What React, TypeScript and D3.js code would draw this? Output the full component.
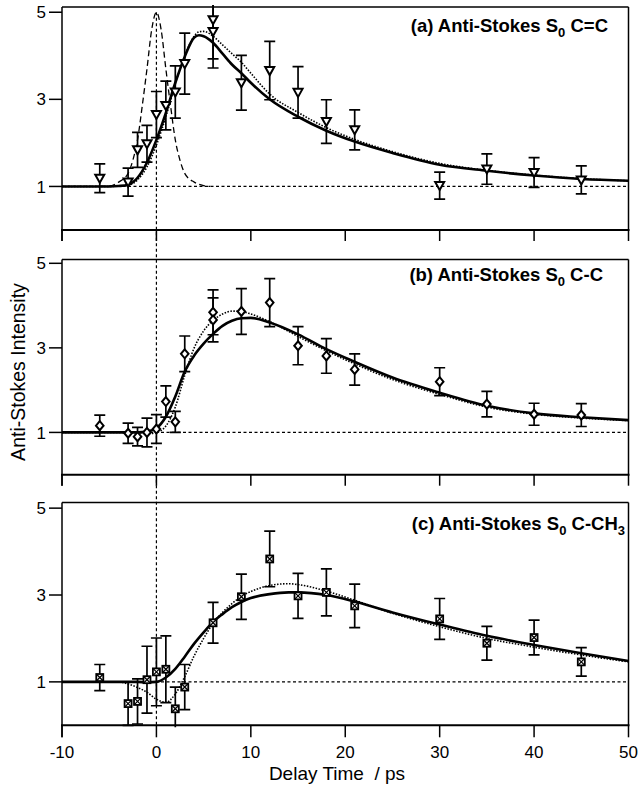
import React from "react";
import * as d3 from "d3";

// ---------- data ----------
const xTicks = [-10, 0, 10, 20, 30, 40, 50];
const yTicks = [1, 3, 5];

// Panel (a) C=C
const timesA = [-6, -3, -2, -1, 0, 1, 2, 3, 6, 6, 9, 12, 15, 18, 21, 30, 35, 40, 45];
const valuesA = [1.19, 1.1, 1.84, 1.98, 2.65, 2.86, 3.17, 3.82, 4.83, 4.56, 3.38, 3.66, 3.16, 2.49, 2.3, 1.02, 1.4, 1.32, 1.15];
const errorsA = [0.33, 0.32, 0.4, 0.42, 0.53, 0.56, 0.6, 0.7, 0.9, 0.84, 0.63, 0.67, 0.59, 0.5, 0.46, 0.31, 0.35, 0.34, 0.32];
const fitTimesA = [-10, -5, -4, -3, -2, -1, 0, 1, 2, 3, 4, 4.5, 5, 6, 7, 8, 9, 10, 12, 15, 18, 21, 25, 30, 35, 40, 45, 50];
const fitSolidA = [1, 1, 1.01, 1.04, 1.2, 1.55, 2.07, 2.69, 3.38, 3.98, 4.42, 4.47, 4.45, 4.3, 4.05, 3.8, 3.6, 3.38, 3.0, 2.6, 2.28, 2.03, 1.77, 1.5, 1.36, 1.25, 1.17, 1.13];
const fitDottedA = [1, 1, 1.01, 1.03, 1.15, 1.45, 1.95, 2.6, 3.35, 4.0, 4.45, 4.55, 4.56, 4.45, 4.25, 4.05, 3.85, 3.6, 3.12, 2.7, 2.35, 2.08, 1.8, 1.53, 1.37, 1.26, 1.18, 1.13];
const pulseTimes = [-6, -5, -4, -3, -2.5, -2, -1.5, -1, -0.5, 0, 0.5, 1, 1.5, 2, 2.5, 3, 4, 5, 5.7];
const pulseValues = [1, 1.01, 1.1, 1.3, 1.6, 2.07, 2.85, 3.7, 4.6, 5, 4.6, 3.7, 2.85, 2.07, 1.6, 1.3, 1.1, 1.02, 1];

// Panel (b) C-C
const timesB = [-6, -3, -2, -1, 0, 1, 2, 3, 6, 6, 9, 12, 15, 18, 21, 30, 35, 40, 45];
const valuesB = [1.16, 0.98, 0.9, 1.0, 1.08, 1.73, 1.25, 2.86, 3.84, 3.66, 3.86, 4.07, 3.05, 2.81, 2.49, 2.2, 1.67, 1.43, 1.41];
const errorsB = [0.25, 0.24, 0.22, 0.34, 0.34, 0.37, 0.25, 0.42, 0.53, 0.52, 0.54, 0.57, 0.45, 0.41, 0.37, 0.33, 0.3, 0.26, 0.27];
const fitTimesB = [-10, -2, -1, 0, 1, 2, 3, 4, 5, 6, 7, 8, 9, 10, 12, 15, 18, 21, 25, 30, 35, 40, 45, 50];
const fitSolidB = [1, 1, 1.02, 1.1, 1.37, 1.85, 2.44, 2.82, 3.1, 3.33, 3.52, 3.64, 3.7, 3.71, 3.6, 3.32, 2.97, 2.67, 2.3, 1.94, 1.63, 1.45, 1.36, 1.29];
const fitDottedB = [1, 1, 0.97, 1.0, 1.15, 1.6, 2.35, 3.0, 3.4, 3.65, 3.8, 3.87, 3.86, 3.8, 3.62, 3.27, 2.93, 2.62, 2.25, 1.9, 1.6, 1.43, 1.34, 1.28];

// Panel (c) C-CH3
const timesC = [-6, -3, -2, -1, 0, 1, 2, 3, 6, 9, 12, 15, 18, 21, 30, 35, 40, 45];
const valuesC = [1.1, 0.5, 0.55, 1.05, 1.23, 1.29, 0.38, 0.88, 2.36, 2.96, 3.83, 2.98, 3.06, 2.75, 2.45, 1.89, 2.02, 1.46];
const errorsC = [0.3, 0.5, 0.52, 0.77, 0.78, 0.77, 0.5, 0.52, 0.47, 0.52, 0.64, 0.52, 0.54, 0.5, 0.47, 0.39, 0.4, 0.33];
const fitTimesC = [-10, -4, -3, -2, -1, 0, 1, 2, 3, 4, 5, 6, 7, 8, 9, 10, 12, 14, 15, 18, 21, 25, 30, 35, 40, 45, 50];
const fitSolidC = [1, 1, 1, 1, 0.99, 1.0, 1.1, 1.3, 1.58, 1.88, 2.14, 2.38, 2.56, 2.72, 2.84, 2.93, 3.02, 3.06, 3.06, 3.0, 2.85, 2.6, 2.32, 2.06, 1.85, 1.66, 1.48];
const fitDottedC = [1, 1, 0.95, 0.87, 0.76, 0.6, 0.53, 0.72, 1.12, 1.6, 2.0, 2.35, 2.6, 2.8, 2.97, 3.08, 3.22, 3.26, 3.24, 3.09, 2.88, 2.58, 2.27, 2.0, 1.8, 1.62, 1.46];

type Pt = { t: number; v: number };
const zip = (ts: number[], vs: number[]): Pt[] => ts.map((t, i) => ({ t, v: vs[i] }));

const panels = [
  {
    id: "a", label: "(a) Anti-Stokes S", sub: "0", rest: " C=C", sub2: "",
    top: 7, bottom: 230, yMax: 5.12, marker: "tri",
    times: timesA, values: valuesA, errors: errorsA,
    fitT: fitTimesA, solid: fitSolidA, dotted: fitDottedA, pulse: true, labelX: 608, labelY: 32,
  },
  {
    id: "b", label: "(b) Anti-Stokes S", sub: "0", rest: " C-C", sub2: "",
    top: 259.5, bottom: 474.7, yMax: 5.09, marker: "dia",
    times: timesB, values: valuesB, errors: errorsB,
    fitT: fitTimesB, solid: fitSolidB, dotted: fitDottedB, pulse: false, labelX: 603, labelY: 281,
  },
  {
    id: "c", label: "(c) Anti-Stokes S", sub: "0", rest: " C-CH", sub2: "3",
    top: 502.5, bottom: 725.3, yMax: 5.13, marker: "sq",
    times: timesC, values: valuesC, errors: errorsC,
    fitT: fitTimesC, solid: fitSolidC, dotted: fitDottedC, pulse: false, labelX: 625, labelY: 530,
  },
];

const FONT = "'Liberation Sans', Arial, Helvetica, sans-serif";

function Marker({ kind, x, y }: { kind: string; x: number; y: number }) {
  if (kind === "tri") {
    return (
      <path d={`M${x - 4.5},${y - 3.5}L${x + 4.5},${y - 3.5}L${x},${y + 4.5}Z`} fill="#fff" stroke="#000" strokeWidth={2} strokeLinejoin="miter" />
    );
  }
  if (kind === "dia") {
    return (
      <path d={`M${x},${y - 4.5}L${x + 3.8},${y}L${x},${y + 4.5}L${x - 3.8},${y}Z`} fill="#fff" stroke="#000" strokeWidth={2} />
    );
  }
  return (
    <g>
      <rect x={x - 3.5} y={y - 3.5} width={7} height={7} fill="#fff" stroke="#000" strokeWidth={1.8} />
      <path d={`M${x - 3.5},${y - 3.5}L${x + 3.5},${y + 3.5}M${x + 3.5},${y - 3.5}L${x - 3.5},${y + 3.5}`} stroke="#000" strokeWidth={1.3} />
    </g>
  );
}

export default function App() {
  const W = 644, H = 789;
  const left = 62, right = 628.5;
  const x = d3.scaleLinear().domain([-10, 50]).range([left, right]);

  const yScales = panels.map((p) => d3.scaleLinear().domain([0, p.yMax]).range([p.bottom, p.top]));

  return (
    <svg width={W} height={H} style={{ position: "absolute", left: 0, top: 0, background: "#fff" }} fontFamily={FONT}>
      <rect x={0} y={0} width={W} height={H} fill="#fff" />
      <defs>
        {panels.map((p) => (
          <clipPath id={`clip-${p.id}`} key={p.id}>
            <rect x={left - 8} y={p.top - 2} width={right - left + 16} height={p.bottom - p.top + 4} />
          </clipPath>
        ))}
      </defs>

      {/* vertical dotted line at t = 0 */}
      <line x1={x(0)} x2={x(0)} y1={yScales[0](5)} y2={panels[2].bottom} stroke="#000" strokeWidth={1.2} strokeDasharray="3,2.5" />

      {panels.map((p, pi) => {
        const y = yScales[pi];
        const line = d3.line<Pt>().x((d) => x(d.t)).y((d) => y(d.v)).curve(d3.curveMonotoneX);
        const pts = zip(p.times, p.values);
        return (
          <g key={p.id}>
            {/* frame */}
            <line x1={left} x2={right} y1={p.top} y2={p.top} stroke="#000" strokeWidth={1.5} />
            <line x1={right} x2={right} y1={p.top} y2={p.bottom} stroke="#000" strokeWidth={1.5} />
            <line x1={left} x2={left} y1={p.top} y2={p.bottom + (pi === 2 ? 12 : 11)} stroke="#000" strokeWidth={1.5} />
            <line x1={left - 1} x2={right + 1} y1={p.bottom} y2={p.bottom} stroke="#000" strokeWidth={2} />
            {/* x ticks (outward) */}
            {xTicks.map((t) => (
              <line key={t} x1={x(t)} x2={x(t)} y1={p.bottom} y2={p.bottom + (pi === 2 ? 12 : 11)} stroke="#000" strokeWidth={1.5} />
            ))}
            {/* y ticks */}
            {yTicks.map((v) => (
              <g key={v}>
                <line x1={left - 13} x2={left} y1={y(v)} y2={y(v)} stroke="#000" strokeWidth={1.5} />
                <text x={left - 16} y={y(v)} dy="0.36em" textAnchor="end" fontSize={17}>{v}</text>
              </g>
            ))}
            {/* baseline y = 1 dotted */}
            <line x1={left} x2={right} y1={y(1)} y2={y(1)} stroke="#000" strokeWidth={1.2} strokeDasharray="3,2.5" />

            {/* pulse */}
            {p.pulse && (
              <path d={line(zip(pulseTimes, pulseValues)) || ""} fill="none" stroke="#000" strokeWidth={1.3} strokeDasharray="6,3.5" />
            )}
            {/* fits */}
            <path d={line(zip(p.fitT, p.dotted)) || ""} fill="none" stroke="#000" strokeWidth={1.6} strokeDasharray="1.5,1.5" />
            <path d={line(zip(p.fitT, p.solid)) || ""} fill="none" stroke="#000" strokeWidth={2.6} />

            {/* error bars and markers */}
            <g clipPath={`url(#clip-${p.id})`}>
              {pts.map((d, i) => {
                const e = p.errors[i];
                const yt = y(d.v + e), yb = y(d.v - e);
                const cx = x(d.t);
                return (
                  <g key={i}>
                    <line x1={cx} x2={cx} y1={yt} y2={yb} stroke="#000" strokeWidth={1.7} />
                    <line x1={cx - 5.5} x2={cx + 5.5} y1={yt} y2={yt} stroke="#000" strokeWidth={1.7} />
                    <line x1={cx - 5.5} x2={cx + 5.5} y1={yb} y2={yb} stroke="#000" strokeWidth={1.7} />
                  </g>
                );
              })}
            </g>
            {pts.map((d, i) => (
              <Marker key={i} kind={p.marker} x={x(d.t)} y={y(d.v)} />
            ))}

            {/* panel label */}
            <text x={p.labelX} y={p.labelY} textAnchor="end" fontSize={18.5} fontWeight="bold">
              {p.label}
              <tspan dy={4.5} fontSize={13}>{p.sub}</tspan>
              <tspan dy={-4.5}>{p.rest}</tspan>
              {p.sub2 && <tspan dy={4.5} fontSize={13}>{p.sub2}</tspan>}
            </text>
          </g>
        );
      })}

      {/* x tick labels */}
      {xTicks.map((t) => (
        <text key={t} x={x(t)} y={758} textAnchor="middle" fontSize={17}>{t}</text>
      ))}
      <text x={337} y={780} textAnchor="middle" fontSize={19} style={{ whiteSpace: "pre" }}>{"Delay Time  / ps"}</text>
      <text transform={`translate(25,372) rotate(-90)`} textAnchor="middle" fontSize={19.5}>Anti-Stokes Intensity</text>
    </svg>
  );
}
